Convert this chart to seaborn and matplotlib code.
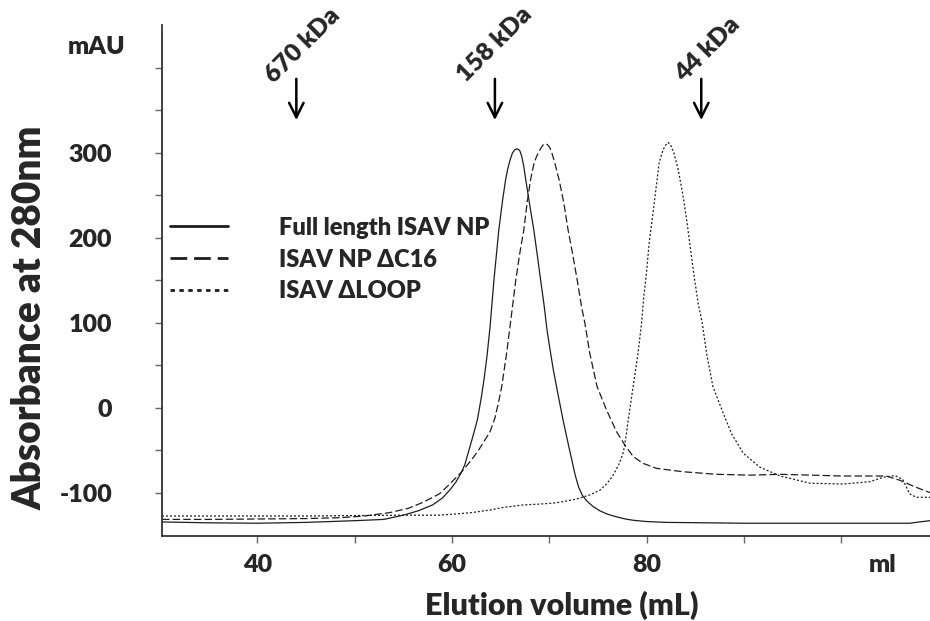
import numpy as np
import pandas as pd
import matplotlib
matplotlib.use('Agg')
import matplotlib.pyplot as plt
from matplotlib.ticker import FixedLocator
import seaborn as sns

# Elution profiles (ml, mAU)
full_x = [30.2, 35, 40, 45, 50, 53, 55, 56.5, 58, 59, 59.8, 60.4, 60.9, 61.3, 61.65, 62.1, 62.6, 63.0,
          63.3, 63.6, 63.9, 64.3, 64.8, 65.2, 65.5, 65.7, 65.95, 66.2, 66.45, 66.7, 66.95, 67.15, 67.35,
          67.6, 68.0, 68.4, 68.75, 69.1, 69.45, 69.75, 70.1, 70.4, 70.9, 71.4, 71.85, 72.3, 72.65, 73.0,
          73.4, 73.9, 74.5, 75.2, 76.0, 76.9, 77.8, 78.6, 80, 82, 86, 90, 95, 100, 105, 107, 108, 109.1]
full_y = [-134, -135, -135.5, -134.5, -132.5, -131, -126, -121, -114, -106, -96, -87, -77, -67, -53, -35, -14, 12,
          35, 62, 95, 150, 209, 245, 268, 280, 291, 299.5, 303.5, 304.5, 302.5, 296, 285,
          266, 237, 209, 180, 150, 121, 92, 66, 45, 15, -14, -38, -61, -79, -93,
          -103, -110, -116, -121, -125, -128, -130.5, -132, -133.5, -134.5, -135, -135.5, -135.5, -135.5, -135.5, -135.5, -134, -132.5]

dc16_x = [30.2, 35, 40, 45, 48.5, 51, 53.6, 55.5, 57, 58.7, 59.8, 61, 62, 62.7, 63.3, 63.9, 64.4, 64.8,
          65.1, 65.6, 66.0, 66.55, 66.96, 67.37, 67.71, 68.06, 68.43, 68.7, 69.0, 69.3, 69.53, 69.8, 70.04,
          70.3, 70.55, 71.0, 71.48, 71.92, 72.37, 72.85, 73.3, 73.64, 74.15, 74.9, 75.87, 76.9, 77.75,
          78.6, 79.6, 81.0, 83.74, 87.17, 90.6, 93.7, 97, 100, 103, 104.6, 106.0, 107.4, 109.1]
dc16_y = [-131, -131, -130.5, -130, -129, -127, -123, -118, -111, -101, -89, -75, -61, -50, -39, -28, -12, 8,
          25, 64, 100, 150.6, 182, 209, 241, 268, 288, 296, 303, 308.5, 310.5, 309.5, 306,
          298, 288, 268, 241, 209, 182, 150.6, 119, 100, 64, 25, -2.4, -28, -43.5,
          -57, -65, -71, -75, -78, -79, -78, -79, -80, -80, -80, -85, -92, -99.6]

loop_x = [30.2, 35, 40, 45, 50, 55, 58.7, 60.5, 62, 63.9, 65.2, 67.3, 69, 70.7, 72.4, 73.1, 74.2, 75.2,
          75.9, 76.5, 77.2, 77.6, 77.85, 78.1, 78.6, 79.1, 79.47, 79.7, 80.0, 80.25, 80.6, 80.93, 81.27,
          81.68, 81.95, 82.2, 82.45, 82.79, 83.23, 83.74, 84.15, 84.5, 84.87, 85.28, 85.7, 86.15, 86.8,
          87.85, 88.7, 89.9, 91.6, 93.7, 96.8, 100.2, 102.9, 104.3, 105.5, 106.3, 107.0, 107.7, 109.1]
loop_y = [-127, -127, -127, -127, -126.5, -126, -126, -124.5, -123, -120, -117, -114, -113, -111.5, -108, -106, -102, -96.5,
          -89, -80, -65, -52, -35, -14, 25, 64, 100, 131, 162, 194, 225, 256, 288,
          303.5, 309, 312, 309, 299.6, 280, 248.6, 217, 186, 154.5, 123, 100, 64, 25,
          -6, -30, -53, -69.5, -80, -88.5, -89.4, -86.7, -81.5, -79.5, -84, -101, -105, -105]

labels = ['Full length ISAV NP', 'ISAV NP \u0394C16', 'ISAV \u0394LOOP']

# size-exclusion standards
marker_pos = [44.0, 64.4, 85.6]
marker_txt = ['670 kDa', '158 kDa', '44 kDa']

df = pd.concat([
    pd.DataFrame({'vol': full_x, 'abs': full_y, 'construct': labels[0]}),
    pd.DataFrame({'vol': dc16_x, 'abs': dc16_y, 'construct': labels[1]}),
    pd.DataFrame({'vol': loop_x, 'abs': loop_y, 'construct': labels[2]}),
], ignore_index=True)

sns.set_style('white')
plt.rcParams['font.family'] = ['Lato', 'DejaVu Sans']
plt.rcParams['font.weight'] = 'heavy'
plt.rcParams['axes.unicode_minus'] = False

FW = 'heavy'
FS = 18

fig = plt.figure(figsize=(9.3, 6.21), dpi=100)
ax = fig.add_axes([162/930, 1 - 536/621, 768/930, 511/621])

line_col = '#1e1e1e'
sns.lineplot(data=df, x='vol', y='abs', hue='construct', style='construct',
             palette=[line_col] * 3, dashes={labels[0]: '', labels[1]: (6, 2.5), labels[2]: (1.6, 1.6)},
             estimator=None, sort=False, linewidth=0.9, ax=ax, legend=True)

ax.set_xlim(30.2, 109.1)
ax.set_ylim(-150.5, 450)

for s in ['top', 'right']:
    ax.spines[s].set_visible(False)
for s in ['left', 'bottom']:
    ax.spines[s].set_color('#333333')
    ax.spines[s].set_linewidth(1.3)

ax.yaxis.set_major_locator(FixedLocator([-100, 0, 100, 200, 300]))
ax.yaxis.set_minor_locator(FixedLocator([-50, 50, 150, 250, 350, 400]))
ax.xaxis.set_major_locator(FixedLocator([40, 60, 80]))
ax.xaxis.set_minor_locator(FixedLocator([50, 70, 90, 100]))
ax.tick_params(axis='both', which='both', direction='out', length=5, width=1, color='#666666',
               left=True, bottom=True)
ax.tick_params(axis='y', which='major', pad=31, labelsize=FS)
ax.tick_params(axis='x', which='major', pad=8, labelsize=FS)
for t in ax.get_xticklabels() + ax.get_yticklabels():
    t.set_fontweight(FW)

ax.set_xlabel('Elution volume (mL)', fontsize=22, fontweight=FW, va='center')
ax.set_ylabel('Absorbance at 280nm', fontsize=28, fontweight=FW, va='center')
ax.xaxis.set_label_coords(0.521, -0.135)
ax.yaxis.set_label_coords(-0.172, 0.427)

fig.text(97/930, 1 - 47/621, 'mAU', fontsize=FS, fontweight=FW, ha='center', va='center')
fig.text(883/930, 1 - 565/621, 'ml', fontsize=FS, fontweight=FW, ha='center', va='center')

# molecular weight markers
txt_pos = [(44.6, 426), (64.4, 427), (86.3, 421)]
for xm, lab, (tx, ty) in zip(marker_pos, marker_txt, txt_pos):
    ax.annotate('', xy=(xm, 335), xytext=(xm, 390),
                arrowprops=dict(arrowstyle='->', lw=1.8, color='black', mutation_scale=26))
    ax.text(tx, ty, lab, rotation=45, fontsize=FS, fontweight=FW,
            ha='center', va='center', rotation_mode='anchor')

leg = ax.legend(loc='upper left', bbox_to_anchor=(0.01, 0.625), frameon=False,
                fontsize=17, handlelength=2.45, handletextpad=2.2, labelspacing=0.42,
                borderaxespad=0, borderpad=0, title=None)
for ln in leg.get_lines():
    ln.set_linewidth(2)
for t in leg.get_texts():
    t.set_fontweight(FW)

fig.savefig('out.png', dpi=100)
